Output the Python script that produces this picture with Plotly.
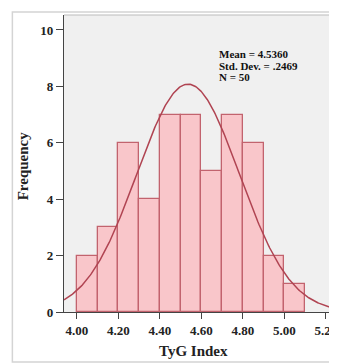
import numpy as np
import plotly.graph_objects as go

bin_starts = [4.0, 4.1, 4.2, 4.3, 4.4, 4.5, 4.6, 4.7, 4.8, 4.9, 5.0]
counts = [2, 3, 6, 4, 7, 7, 5, 7, 6, 2, 1]
bin_width = 0.1
MEAN = 4.5360
SD = 0.2469
N = 50
x_ticks = [4.0, 4.2, 4.4, 4.6, 4.8, 5.0, 5.2]
x_tick_labels = ["4.00", "4.20", "4.40", "4.60", "4.80", "5.00", "5.20"]
y_ticks = [0, 2, 4, 6, 8, 10]
stat_lines = ["Mean = 4.5360", "Std. Dev. = .2469", "N = 50"]

X_RANGE = [3.938, 5.244]
Y_RANGE = [0, 10.53]

centers = [s + bin_width / 2 for s in bin_starts]
xc = np.linspace(X_RANGE[0], X_RANGE[1], 300)
yc = N * bin_width / (SD * np.sqrt(2 * np.pi)) * np.exp(-0.5 * ((xc - MEAN) / SD) ** 2)

FONT = "Liberation Serif"
OFF = 8  # default page body margin
W, H = 337 - OFF, 363 - OFF
L, T, B = 64 - OFF, 15 - OFF, 51
PW, PH = W - L, H - T - B


def px(xp):
    return (xp - 64) / PW


def py(yp):
    return (312 - yp) / PH


fig = go.Figure()
fig.add_trace(go.Bar(
    x=centers, y=counts, width=bin_width,
    marker=dict(color="#f9c6ca", line=dict(color="#c2636e", width=1.3)),
    hoverinfo="skip",
))
fig.add_trace(go.Scatter(
    x=xc, y=yc, mode="lines",
    line=dict(color="#b04452", width=1.5),
    hoverinfo="skip",
))

fig.update_layout(
    width=W, height=H,
    margin=dict(l=L, r=0, t=T, b=B, pad=0),
    paper_bgcolor="white",
    plot_bgcolor="#f0f0f0",
    showlegend=False,
    bargap=0,
    font=dict(family=FONT, color="#222", size=13),
    xaxis=dict(
        range=X_RANGE, tickvals=x_ticks, ticktext=["<b>%s</b>" % t for t in x_tick_labels],
        ticks="outside", ticklen=6, tickwidth=1.2, tickcolor="#444",
        showline=True, linecolor="#444", linewidth=1.2,
        showgrid=False, zeroline=False, ticklabeloverflow="allow",
        tickfont=dict(family=FONT, size=13, color="#222"),
    ),
    yaxis=dict(
        range=Y_RANGE, tickvals=y_ticks, ticktext=["<b>%d</b>" % v for v in y_ticks],
        ticks="outside", ticklen=7, tickwidth=1.2, tickcolor="#444",
        showline=True, linecolor="#444", linewidth=1.2,
        showgrid=False, zeroline=False,
        tickfont=dict(family=FONT, size=13, color="#222"),
    ),
)

# outer frame (chart border)
fig.add_shape(type="rect", xref="paper", yref="paper",
              x0=px(12), x1=px(400), y0=py(362), y1=py(12),
              line=dict(color="#d4d4d4", width=1.5), layer="below")
# top border of plot area
fig.add_shape(type="line", xref="paper", yref="paper",
              x0=0, x1=1, y0=1, y1=1,
              line=dict(color="#bbbbbb", width=1))

# axis titles
fig.add_annotation(
    xref="paper", yref="paper", x=px(194), y=py(351),
    xanchor="center", yanchor="middle", showarrow=False,
    text="<b>TyG Index</b>", font=dict(family=FONT, size=15, color="#222"),
)
fig.add_annotation(
    xref="paper", yref="paper", x=px(23), y=py(166),
    xanchor="center", yanchor="middle", showarrow=False, textangle=-90,
    text="<b>Frequency</b>", font=dict(family=FONT, size=15, color="#222"),
)

# statistics box
for i, line in enumerate(stat_lines):
    fig.add_annotation(
        xref="paper", yref="paper", x=px(219), y=py(54 + 11.7 * i),
        xanchor="left", yanchor="middle", showarrow=False, align="left",
        borderpad=0,
        text="<b>%s</b>" % line,
        font=dict(family=FONT, size=11, color="#111"),
    )

fig.write_html("out.html")
